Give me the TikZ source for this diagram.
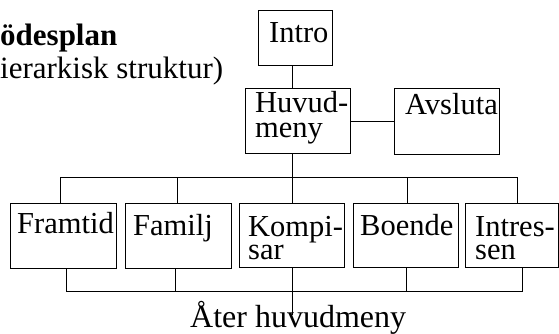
\documentclass[tikz,border=0pt]{standalone}
\usepackage{fontspec}
\setmainfont{Liberation Serif}
\begin{document}
\begin{tikzpicture}[x=1pt,y=-1pt,
  box/.style={draw,line width=1pt,inner sep=0pt},
  lbl/.style={inner sep=0pt,anchor=base west,font=\fontsize{30.5}{24}\selectfont,align=left},
  con/.style={line width=0.9pt}]
\useasboundingbox (0,0) rectangle (559,334);
% title
\node[lbl,font=\fontsize{31}{24}\selectfont\bfseries] (t1) at (0,46) {ödesplan};
\node[lbl,font=\fontsize{31}{24}\selectfont] (t2) at (0,79) {ierarkisk struktur)};
% boxes
\node[box,minimum width=74pt,minimum height=55pt] (intro) at (295,38.5) {};
\node[box,minimum width=105pt,minimum height=64pt] (huvud) at (297.5,121) {};
\node[box,minimum width=105pt,minimum height=65pt] (avsl) at (446.5,121.5) {};
\node[box,minimum width=106pt,minimum height=65pt] (fram) at (63,235.5) {};
\node[box,minimum width=106pt,minimum height=65pt] (fami) at (178,235.5) {};
\node[box,minimum width=105pt,minimum height=64pt] (komp) at (291.5,235) {};
\node[box,minimum width=105pt,minimum height=64pt] (boen) at (405.5,235) {};
\node[box,minimum width=93pt,minimum height=64pt] (intr) at (511.5,235) {};
% texts (base anchor = baseline of last line)
\node[lbl] (l1) at (269,43) {Intro};
\node[lbl,font=\fontsize{30.5}{25}\selectfont] (l2) at (255,138) {Huvud-\\meny};
\node[lbl] (l3) at (405,115) {Avsluta};
\node[lbl] (l4) at (17,233) {Framtid};
\node[lbl] (l5) at (133,235) {Familj};
\node[lbl,font=\fontsize{30.5}{23}\selectfont] (l6) at (248,259) {Kompi-\\sar};
\node[lbl] (l7) at (360,235) {Boende};
\node[lbl,font=\fontsize{30.5}{23}\selectfont] (l8) at (475,259) {Intres-\\sen};
\node[lbl,font=\fontsize{32}{24}\selectfont] (l9) at (190,327) {Åter huvudmeny};
% coordinates
\coordinate (tb) at (292,177);
\coordinate (bb) at (292,291);
\coordinate (end) at (292,315);
% connectors
\draw[con] (292,0 |- intro.south) -- (292,0 |- huvud.north);
\draw[con] (huvud.east) -- (avsl.west |- huvud.east);
\draw[con] (292,0 |- huvud.south) -- (tb);
\draw[con] (60,0 |- fram.north) -- (60,0 |- tb) -- (517,0 |- tb) -- (517,0 |- intr.north);
\draw[con] (177,0 |- fami.north) -- (177,0 |- tb);
\draw[con] (292,0 |- komp.north) -- (tb);
\draw[con] (407,0 |- boen.north) -- (407,0 |- tb);
\draw[con] (66,0 |- fram.south) -- (66,0 |- bb) -- (522,0 |- bb) -- (522,0 |- intr.south);
\draw[con] (175,0 |- fami.south) -- (175,0 |- bb);
\draw[con] (406,0 |- boen.south) -- (406,0 |- bb);
\draw[con] (292,0 |- komp.south) -- (end);
\end{tikzpicture}
\end{document}
